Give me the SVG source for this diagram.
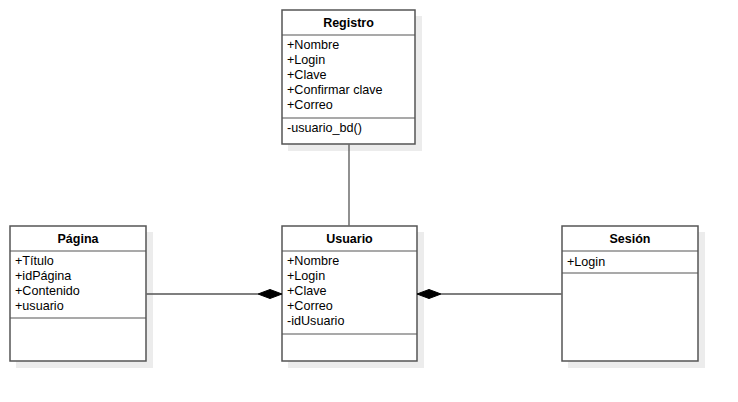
<svg xmlns="http://www.w3.org/2000/svg" width="738" height="402" viewBox="0 0 738 402">
<style>
.shadow{fill:#ececec;stroke:none}
.box{fill:#ffffff;stroke:#555555;stroke-width:1.5}
.sep{stroke:#555555;stroke-width:1.2}
.title{font-family:"Liberation Sans",Arial,sans-serif;font-size:12.5px;font-weight:bold;fill:#000;text-anchor:middle}
.attr{font-family:"Liberation Sans",Arial,sans-serif;font-size:12.6px;fill:#000}
.conn{stroke:#555555;stroke-width:1.3;fill:none}
.dia{fill:#000;stroke:#000;stroke-width:1}
</style>
<rect width="738" height="402" fill="#ffffff"/>
<g id="registro">
<rect class="shadow" x="288" y="16" width="134" height="135"/>
<rect class="box" x="282" y="10" width="133" height="134"/>
<line class="sep" x1="282" y1="35" x2="415" y2="35"/>
<line class="sep" x1="282" y1="118" x2="415" y2="118"/>
<text class="title" x="348.5" y="27">Registro</text>
<text class="attr" x="287" y="49">+Nombre</text>
<text class="attr" x="287" y="64">+Login</text>
<text class="attr" x="287" y="79">+Clave</text>
<text class="attr" x="287" y="94">+Confirmar clave</text>
<text class="attr" x="287" y="109">+Correo</text>
<text class="attr" x="287" y="132">-usuario_bd()</text>
</g>
<g id="pagina">
<rect class="shadow" x="16" y="232" width="137" height="136"/>
<rect class="box" x="10" y="226" width="136" height="135"/>
<line class="sep" x1="10" y1="251" x2="146" y2="251"/>
<line class="sep" x1="10" y1="318" x2="146" y2="318"/>
<text class="title" x="78" y="243">Página</text>
<text class="attr" x="15" y="265">+Título</text>
<text class="attr" x="15" y="280">+idPágina</text>
<text class="attr" x="15" y="295">+Contenido</text>
<text class="attr" x="15" y="310">+usuario</text>
</g>
<g id="usuario">
<rect class="shadow" x="288" y="232" width="136" height="136"/>
<rect class="box" x="282" y="226" width="135" height="135"/>
<line class="sep" x1="282" y1="251" x2="417" y2="251"/>
<line class="sep" x1="282" y1="334" x2="417" y2="334"/>
<text class="title" x="349.5" y="243">Usuario</text>
<text class="attr" x="287" y="265">+Nombre</text>
<text class="attr" x="287" y="280">+Login</text>
<text class="attr" x="287" y="295">+Clave</text>
<text class="attr" x="287" y="310">+Correo</text>
<text class="attr" x="287" y="325">-idUsuario</text>
</g>
<g id="sesion">
<rect class="shadow" x="568" y="232" width="137" height="136"/>
<rect class="box" x="562" y="226" width="136" height="135"/>
<line class="sep" x1="562" y1="251" x2="698" y2="251"/>
<line class="sep" x1="562" y1="273" x2="698" y2="273"/>
<text class="title" x="630" y="243">Sesión</text>
<text class="attr" x="567" y="266">+Login</text>
</g>
<g id="connectors">
<line class="conn" x1="349" y1="144.5" x2="349" y2="225.5"/>
<line class="conn" x1="146.5" y1="294" x2="258" y2="294"/>
<polygon class="dia" points="258,294 270,289.5 282,294 270,298.5"/>
<line class="conn" x1="441" y1="294" x2="561.5" y2="294"/>
<polygon class="dia" points="417,294 429,289.5 441,294 429,298.5"/>
</g>
</svg>
